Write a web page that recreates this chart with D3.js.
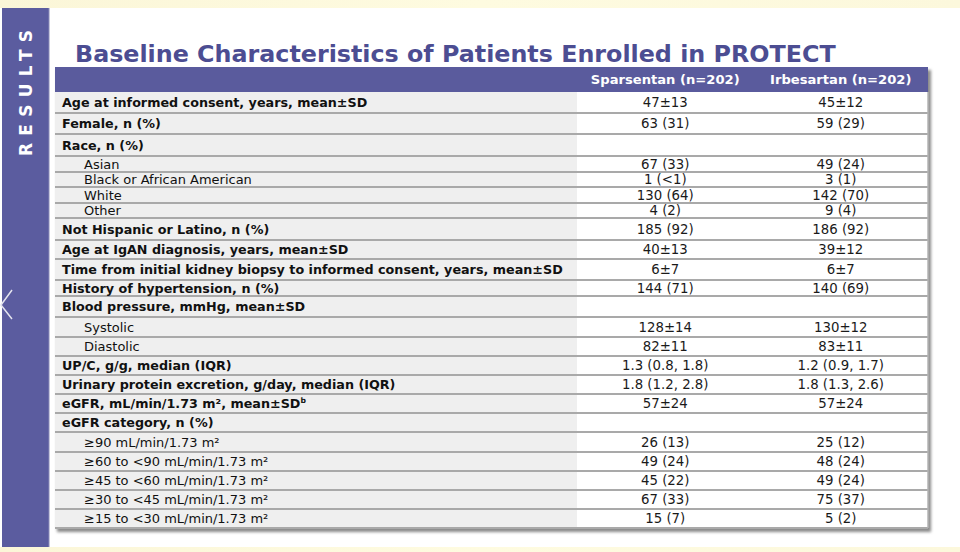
<!DOCTYPE html>
<html><head><meta charset="utf-8">
<script src="https://cdn.jsdelivr.net/npm/d3@7"></script>
<style>html,body{margin:0;padding:0;background:#fff;overflow:hidden}</style>
</head><body>
<svg id="c" width="960" height="552"></svg>
<script>
// ---------- DATA ----------
const title = "Baseline Characteristics of Patients Enrolled in PROTECT";
const sideLabel = "RESULTS";
const columns = ["Sparsentan (n=202)", "Irbesartan (n=202)"];
const rowLabels = [
  "Age at informed consent, years, mean±SD",
  "Female, n (%)",
  "Race, n (%)",
  "Asian",
  "Black or African American",
  "White",
  "Other",
  "Not Hispanic or Latino, n (%)",
  "Age at IgAN diagnosis, years, mean±SD",
  "Time from initial kidney biopsy to informed consent, years, mean±SD",
  "History of hypertension, n (%)",
  "Blood pressure, mmHg, mean±SD",
  "Systolic",
  "Diastolic",
  "UP/C, g/g, median (IQR)",
  "Urinary protein excretion, g/day, median (IQR)",
  "eGFR, mL/min/1.73 m², mean±SD^b",
  "eGFR category, n (%)",
  "≥90 mL/min/1.73 m²",
  "≥60 to <90 mL/min/1.73 m²",
  "≥45 to <60 mL/min/1.73 m²",
  "≥30 to <45 mL/min/1.73 m²",
  "≥15 to <30 mL/min/1.73 m²"
];
const rowKinds = ["main","main","main","sub","sub","sub","sub","main","main","main","main","main",
  "sub","sub","main","main","main","main","sub","sub","sub","sub","sub"];
const sparsentan = ["47±13","63 (31)","","67 (33)","1 (<1)","130 (64)","4 (2)","185 (92)","40±13","6±7",
  "144 (71)","","128±14","82±11","1.3 (0.8, 1.8)","1.8 (1.2, 2.8)","57±24","","26 (13)","49 (24)",
  "45 (22)","67 (33)","15 (7)"];
const irbesartan = ["45±12","59 (29)","","49 (24)","3 (1)","142 (70)","9 (4)","186 (92)","39±12","6±7",
  "140 (69)","","130±12","83±11","1.2 (0.9, 1.7)","1.8 (1.3, 2.6)","57±24","","25 (12)","48 (24)",
  "49 (24)","75 (37)","5 (2)"];

// ---------- LAYOUT ----------
const FONT = "'DejaVu Sans', Verdana, sans-serif";
const purple = "#5a5b9d", titleColor = "#4c4d92";
const rowHeights = [21,21,22,16,15,16,15,22,19,21,16,21,20,19,19,19,19,19,20,19,19,19,19];
const tLeft = 55, tRight = 928, labelRight = 577, headTop = 67, headBottom = 92;

const svg = d3.select("#c");
const defs = svg.append("defs");
const yel = defs.append("linearGradient").attr("id","yel").attr("x1",0).attr("x2",1);
yel.append("stop").attr("offset","0%").attr("stop-color","#fbf6d8");
yel.append("stop").attr("offset","50%").attr("stop-color","#fefbe0");
yel.append("stop").attr("offset","100%").attr("stop-color","#fcf8dc");
const sh = defs.append("filter").attr("id","sh").attr("x","-5%").attr("y","-5%").attr("width","110%").attr("height","110%");
sh.append("feGaussianBlur").attr("stdDeviation",1.5);

// background strips
svg.append("rect").attr("x",0).attr("y",0).attr("width",960).attr("height",8).attr("fill","url(#yel)");
svg.append("rect").attr("x",0).attr("y",547).attr("width",960).attr("height",5).attr("fill","url(#yel)");

// sidebar
svg.append("rect").attr("x",2).attr("y",8).attr("width",47).attr("height",539).attr("fill","#5b5c9f");
svg.append("line").attr("x1",49).attr("x2",49).attr("y1",8).attr("y2",547).attr("stroke","#8c8cb8").attr("stroke-width",1);
svg.append("text").attr("transform","translate(32,93) rotate(-90)")
  .attr("text-anchor","middle").attr("font-family",FONT).attr("font-weight","bold")
  .attr("font-size",17).attr("fill","#fff").attr("textLength",126).attr("lengthAdjust","spacing")
  .text(sideLabel);
svg.append("path").attr("d","M12,290 L1,305 L12,319").attr("fill","none")
  .attr("stroke","#e4e4ee").attr("stroke-width",1.5);

// title
const tt = svg.append("text").attr("x",75).attr("y",62).attr("font-family",FONT)
  .attr("font-weight","bold").attr("font-size",24).attr("fill",titleColor).text(title);
const tw = tt.node().getComputedTextLength();
tt.attr("font-size", 24*761/tw);

// row scale edges
const edges = [headBottom];
rowHeights.forEach(h => edges.push(edges[edges.length-1]+h));
const idx = d3.range(rowLabels.length);
const y = d3.scaleOrdinal().domain(idx).range(edges.slice(0,-1));
const x = d3.scaleBand().domain(columns).range([labelRight, tRight]);
const tBottom = edges[edges.length-1];

// shadow
svg.append("rect").attr("x",tLeft+2).attr("y",headTop+3).attr("width",tRight-tLeft+1)
  .attr("height",tBottom-headTop+1).attr("fill","#8a8a8a").attr("filter","url(#sh)");
// body
svg.append("rect").attr("x",tLeft).attr("y",headBottom).attr("width",tRight-tLeft)
  .attr("height",tBottom-headBottom).attr("fill","#fff");
svg.append("rect").attr("x",tLeft).attr("y",headBottom).attr("width",labelRight-tLeft)
  .attr("height",tBottom-headBottom).attr("fill","#efefef");
// header
svg.append("rect").attr("x",tLeft).attr("y",headTop).attr("width",tRight-tLeft)
  .attr("height",headBottom-headTop).attr("fill",purple);

// header texts
const ht = svg.append("g").selectAll("text").data(columns).join("text")
  .attr("x", d => x(d)+x.bandwidth()/2 + 0.5).attr("y", headBottom-8)
  .attr("text-anchor","middle").attr("font-family",FONT).attr("font-weight","bold")
  .attr("font-size",13).attr("fill","#fff").text(d=>d);
const hw = ht.nodes()[0].getComputedTextLength();
ht.attr("font-size", 13*149/hw);

// separators
svg.append("g").selectAll("line").data(idx).join("line")
  .attr("x1",tLeft).attr("x2",tRight)
  .attr("y1", i => y(i)+rowHeights[i]).attr("y2", i => y(i)+rowHeights[i])
  .attr("stroke","#a9a9a9").attr("stroke-width",2);
svg.append("line").attr("x1",tRight).attr("x2",tRight).attr("y1",headBottom).attr("y2",tBottom)
  .attr("stroke","#b5b5b5").attr("stroke-width",1.5);

// labels
const lg = svg.append("g").attr("font-family",FONT).attr("fill","#111");
const lab = lg.selectAll("text").data(idx).join("text")
  .attr("x", i => rowKinds[i]==="sub" ? 84 : 62)
  .attr("y", i => y(i)+rowHeights[i]/2+4.5)
  .attr("font-weight", i => rowKinds[i]==="sub" ? "normal" : "bold")
  .attr("font-size",13);
lab.each(function(i){
  const parts = rowLabels[i].split("^");
  const t = d3.select(this);
  t.append("tspan").text(parts[0]);
  if (parts[1]) t.append("tspan").attr("font-size","60%").attr("dy",-5).text(parts[1]);
});
const lw = lab.filter(i => i===9).node().getComputedTextLength();
const sw = lab.filter(i => i===4).node().getComputedTextLength();
lab.attr("font-size", i => rowKinds[i]==="sub" ? 13*168/sw : 13*501/lw);

// values
const series = [sparsentan, irbesartan];
const vg = svg.append("g").attr("font-family",FONT).attr("fill","#1a1a1a").attr("font-size",13.3)
  .attr("text-anchor","middle");
series.forEach((vals, c) => {
  vg.append("g").selectAll("text").data(idx).join("text")
    .attr("x", x(columns[c]) + x.bandwidth()/2 + 0.5)
    .attr("y", i => y(i)+rowHeights[i]/2+4.5)
    .text(i => vals[i]);
});
</script>
</body></html>
